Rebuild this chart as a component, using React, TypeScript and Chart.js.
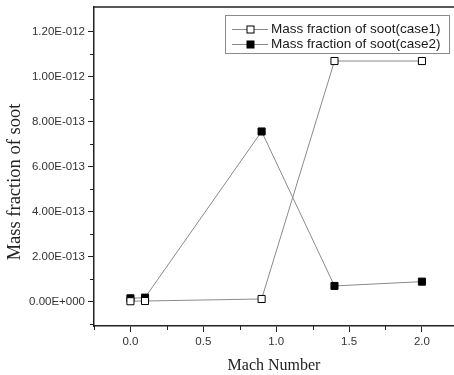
import React, { useEffect, useRef } from "react";
import { Chart, registerables } from "chart.js";

Chart.register(...registerables);

const machNumbers = [0.0, 0.1, 0.9, 1.4, 2.0];
const sootCase1 = [3e-15, 4e-15, 1.3e-14, 1.07e-12, 1.07e-12];
const sootCase2 = [1.6e-14, 1.9e-14, 7.57e-13, 7.1e-14, 9.0e-14];
const seriesNames = ["Mass fraction of soot(case1)", "Mass fraction of soot(case2)"];

const yTickValues = [0, 2e-13, 4e-13, 6e-13, 8e-13, 1e-12, 1.2e-12];
const yTickLabels = ["0.00E+000", "2.00E-013", "4.00E-013", "6.00E-013", "8.00E-013", "1.00E-012", "1.20E-012"];
const yMinorValues = [-1e-13, 1e-13, 3e-13, 5e-13, 7e-13, 9e-13, 1.1e-12];
const xTickValues = [0, 0.5, 1.0, 1.5, 2.0];
const xTickLabels = ["0.0", "0.5", "1.0", "1.5", "2.0"];
const xMinorValues = [-0.25, 0.25, 0.75, 1.25, 1.75];

const xTitle = "Mach Number";
const yTitle = "Mass fraction of soot";

const AXIS = "#222";
const LINE = "#8a8a8a";
const TICKFONT = "'Liberation Sans', Arial, sans-serif";
const TITLEFONT = "'Liberation Serif', 'Times New Roman', serif";

const framePlugin = {
  id: "frameAndLegend",
  afterDraw(chart: any) {
    const { ctx, chartArea } = chart;
    const xs = chart.scales.x;
    const ys = chart.scales.y;
    ctx.save();
    // top frame line
    ctx.strokeStyle = AXIS;
    ctx.lineWidth = 1.5;
    ctx.beginPath();
    ctx.moveTo(chartArea.left, chartArea.top);
    ctx.lineTo(chartArea.right, chartArea.top);
    ctx.stroke();
    // minor ticks
    ctx.lineWidth = 1;
    ctx.beginPath();
    yMinorValues.forEach((v) => {
      const y = Math.round(ys.getPixelForValue(v)) + 0.5;
      ctx.moveTo(chartArea.left - 4, y);
      ctx.lineTo(chartArea.left, y);
    });
    xMinorValues.forEach((v) => {
      const x = Math.round(xs.getPixelForValue(v)) + 0.5;
      ctx.moveTo(x, chartArea.bottom);
      ctx.lineTo(x, chartArea.bottom + 4);
    });
    ctx.stroke();

    // y title
    ctx.save();
    ctx.translate(15, 182);
    ctx.rotate(-Math.PI / 2);
    ctx.fillStyle = "#222";
    ctx.font = `18.5px ${TITLEFONT}`;
    ctx.textAlign = "center";
    ctx.textBaseline = "middle";
    ctx.fillText(yTitle, 0, 0);
    ctx.restore();

    // legend
    const bx = 225.5, by = 15.5, bw = 224, bh = 38;
    ctx.strokeStyle = "#8a8a8a";
    ctx.lineWidth = 1;
    ctx.fillStyle = "#fff";
    ctx.fillRect(bx, by, bw, bh);
    ctx.strokeRect(bx, by, bw, bh);
    const rows = [29, 44];
    chart.data.datasets.forEach((ds: any, i: number) => {
      const y = rows[i] + 0.5;
      ctx.strokeStyle = LINE;
      ctx.lineWidth = 1;
      ctx.beginPath();
      ctx.moveTo(232, y);
      ctx.lineTo(268, y);
      ctx.stroke();
      ctx.fillStyle = ds.pointBackgroundColor;
      ctx.fillRect(247, y - 3.5, 7, 7);
      ctx.strokeStyle = "#000";
      ctx.strokeRect(247, y - 3.5, 7, 7);
      ctx.fillStyle = "#1a1a1a";
      ctx.font = `13.5px ${TICKFONT}`;
      ctx.textBaseline = "middle";
      ctx.textAlign = "left";
      ctx.fillText(ds.label, 271, y);
    });
    ctx.restore();
  },
};

export default function App() {
  const canvasRef = useRef<HTMLCanvasElement | null>(null);

  useEffect(() => {
    const canvas = canvasRef.current;
    if (!canvas) return;
    const chart = new Chart(canvas, {
      type: "line",
      data: {
        datasets: [
          {
            label: seriesNames[0],
            data: machNumbers.map((x, i) => ({ x, y: sootCase1[i] })),
            borderColor: LINE,
            borderWidth: 1,
            pointStyle: "rect",
            pointRadius: 5,
            pointBackgroundColor: "#ffffff",
            pointBorderColor: "#000000",
            pointBorderWidth: 1,
            tension: 0,
          },
          {
            label: seriesNames[1],
            data: machNumbers.map((x, i) => ({ x, y: sootCase2[i] })),
            borderColor: LINE,
            borderWidth: 1,
            pointStyle: "rect",
            pointRadius: 5,
            pointBackgroundColor: "#000000",
            pointBorderColor: "#000000",
            pointBorderWidth: 1,
            tension: 0,
          },
        ],
      },
      options: {
        responsive: false,
        animation: false,
        events: [],
        layout: { autoPadding: false, padding: { top: 7, right: 0, left: 0, bottom: 0 } },
        plugins: { legend: { display: false }, tooltip: { enabled: false } },
        scales: {
          x: {
            type: "linear",
            min: -0.25,
            max: 2.22,
            afterBuildTicks: (scale: any) => {
              scale.ticks = xTickValues.map((v) => ({ value: v }));
            },
            afterFit: (scale: any) => {
              scale.height = 49;
              scale.paddingLeft = 0;
              scale.paddingRight = 0;
            },
            ticks: {
              autoSkip: false,
              maxRotation: 0,
              padding: 3,
              color: "#333",
              font: { family: TICKFONT, size: 11.5 },
              callback: (_v: any, i: number) => xTickLabels[i],
            },
            grid: {
              drawOnChartArea: false,
              drawTicks: true,
              tickLength: 6,
              tickColor: AXIS,
              tickWidth: 1,
            },
            border: { display: true, color: AXIS, width: 1.5 },
            title: {
              display: true,
              text: xTitle,
              color: "#222",
              font: { family: TITLEFONT, size: 16, lineHeight: 1 },
              padding: { top: 0, bottom: 1 },
            },
          },
          y: {
            type: "linear",
            min: -1.07e-13,
            max: 1.31e-12,
            afterBuildTicks: (scale: any) => {
              scale.ticks = yTickValues.map((v) => ({ value: v }));
            },
            afterFit: (scale: any) => {
              scale.width = 94;
              scale.paddingTop = 0;
              scale.paddingBottom = 0;
            },
            ticks: {
              autoSkip: false,
              padding: 3,
              color: "#333",
              font: { family: TICKFONT, size: 11.5 },
              callback: (_v: any, i: number) => yTickLabels[i],
            },
            grid: {
              drawOnChartArea: false,
              drawTicks: true,
              tickLength: 6,
              tickColor: AXIS,
              tickWidth: 1,
            },
            border: { display: true, color: AXIS, width: 1.5 },
            title: { display: false, text: yTitle },
          },
        },
      },
      plugins: [framePlugin],
    });
    return () => chart.destroy();
  }, []);

  return (
    <div style={{ position: "absolute", left: 0, top: 0, width: 454, height: 375, background: "#fff" }}>
      <canvas ref={canvasRef} width={454} height={375} style={{ display: "block" }} />
    </div>
  );
}
